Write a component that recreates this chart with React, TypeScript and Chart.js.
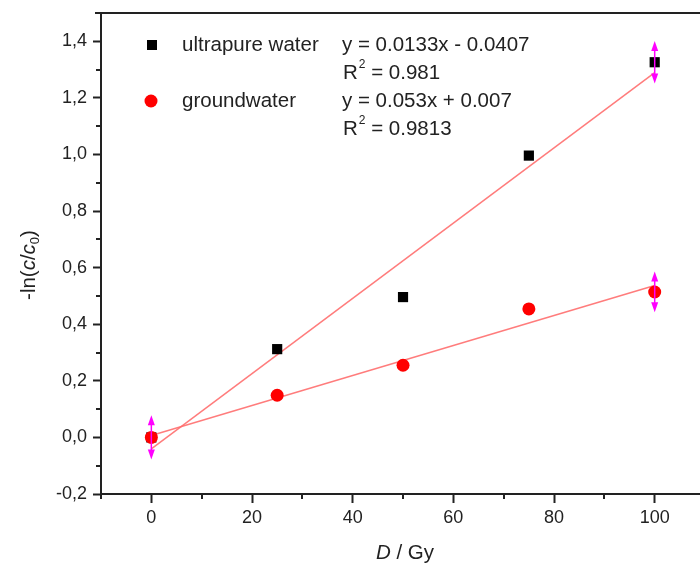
import React, { useEffect, useRef } from 'react';
import { Chart, registerables } from 'chart.js';

Chart.register(...registerables);

// ---- data ----
const doses = [0, 25, 50, 75, 100];
const ultrapure = [0, 0.312, 0.496, 0.996, 1.326];
const groundwater = [0, 0.149, 0.255, 0.454, 0.514];

const fitX = [0, 100];
const fitUltrapure = [-0.0407, 1.2893];
const fitGroundwater = [0.007, 0.537];

// magenta double arrows (centre value and half length)
const arrowX = [0, 100, 100];
const arrowY = [0, 1.326, 0.514];
const arrowHalf = [0.078, 0.075, 0.072];

const xTickValues = [0, 20, 40, 60, 80, 100];
const xTickLabels = ['0', '20', '40', '60', '80', '100'];
const xMinorTicks = [-10, 10, 30, 50, 70, 90];
const yTickValues = [-0.2, 0, 0.2, 0.4, 0.6, 0.8, 1.0, 1.2, 1.4];
const yTickLabels = ['-0,2', '0,0', '0,2', '0,4', '0,6', '0,8', '1,0', '1,2', '1,4'];
const yMinorTicks = [-0.1, 0.1, 0.3, 0.5, 0.7, 0.9, 1.1, 1.3];

const legendNames = ['ultrapure water', 'groundwater'];
const legendEquations = ['y = 0.0133x - 0.0407', 'y = 0.053x + 0.007'];
const legendR2 = ['0.981', '0.9813'];

const FONT = '"Liberation Sans", Arial, sans-serif';
const TEXT = '#222222';
const MAGENTA = '#ff00ff';
const FIT = 'rgba(255,110,110,0.9)';

const overlay = {
  id: 'overlay',
  afterDatasetsDraw(chart: any) {
    const { ctx, scales } = chart;
    const x = scales.x;
    const y = scales.y;
    ctx.save();
    ctx.strokeStyle = MAGENTA;
    ctx.fillStyle = MAGENTA;
    ctx.lineWidth = 1.5;
    arrowX.forEach((xv, i) => {
      const px = x.getPixelForValue(xv);
      const top = y.getPixelForValue(arrowY[i] + arrowHalf[i]);
      const bot = y.getPixelForValue(arrowY[i] - arrowHalf[i]);
      ctx.beginPath();
      ctx.moveTo(px, top + 6);
      ctx.lineTo(px, bot - 6);
      ctx.stroke();
      ctx.beginPath();
      ctx.moveTo(px, top);
      ctx.lineTo(px - 3.5, top + 10);
      ctx.lineTo(px + 3.5, top + 10);
      ctx.closePath();
      ctx.fill();
      ctx.beginPath();
      ctx.moveTo(px, bot);
      ctx.lineTo(px - 3.5, bot - 10);
      ctx.lineTo(px + 3.5, bot - 10);
      ctx.closePath();
      ctx.fill();
    });
    ctx.restore();
  },
  afterDraw(chart: any) {
    const { ctx, scales, chartArea } = chart;
    const x = scales.x;
    const y = scales.y;
    ctx.save();
    // top frame line
    ctx.strokeStyle = TEXT;
    ctx.lineWidth = 2;
    ctx.beginPath();
    ctx.moveTo(chartArea.left - 6, chartArea.top);
    ctx.lineTo(chart.width, chartArea.top);
    ctx.stroke();
    // minor ticks
    ctx.lineWidth = 2;
    yMinorTicks.forEach((v) => {
      const py = Math.round(y.getPixelForValue(v));
      ctx.beginPath();
      ctx.moveTo(chartArea.left, py);
      ctx.lineTo(chartArea.left - 5, py);
      ctx.stroke();
    });
    xMinorTicks.forEach((v) => {
      const px = Math.round(x.getPixelForValue(v));
      ctx.beginPath();
      ctx.moveTo(px, chartArea.bottom);
      ctx.lineTo(px, chartArea.bottom + 5);
      ctx.stroke();
    });

    // legend
    ctx.textBaseline = 'middle';
    ctx.textAlign = 'left';
    const rows = [45, 101];
    const r2rows = [73, 129];
    ctx.fillStyle = '#000000';
    ctx.fillRect(147, 40, 10, 10);
    ctx.fillStyle = '#ff0000';
    ctx.beginPath();
    ctx.arc(151, 101, 6.5, 0, Math.PI * 2);
    ctx.fill();
    ctx.fillStyle = TEXT;
    const big = `20.5px ${FONT}`;
    const small = `12px ${FONT}`;
    legendNames.forEach((name, i) => {
      ctx.font = big;
      ctx.fillText(name, 182, rows[i]);
      ctx.fillText(legendEquations[i], 342, rows[i]);
      const yy = r2rows[i];
      ctx.fillText('R', 343, yy);
      const wR = ctx.measureText('R').width;
      ctx.font = small;
      ctx.fillText('2', 343 + wR + 1, yy - 8);
      const w2 = ctx.measureText('2').width;
      ctx.font = big;
      ctx.fillText(' = ' + legendR2[i], 343 + wR + w2 + 1, yy);
    });

    // x title: "D / Gy"
    const parts: [string, boolean][] = [['D', true], [' / Gy', false]];
    const fontOf = (it: boolean) => `${it ? 'italic ' : ''}20.5px ${FONT}`;
    let total = 0;
    parts.forEach(([t, it]) => {
      ctx.font = fontOf(it);
      total += ctx.measureText(t).width;
    });
    let cx = 405 - total / 2;
    parts.forEach(([t, it]) => {
      ctx.font = fontOf(it);
      ctx.fillText(t, cx, 553);
      cx += ctx.measureText(t).width;
    });

    // y title: -ln(c/c0)
    ctx.save();
    ctx.translate(29, 265);
    ctx.rotate(-Math.PI / 2);
    const yParts: [string, string, number][] = [
      ['-ln(', fontOf(false), 0],
      ['c', fontOf(true), 0],
      ['/', fontOf(false), 0],
      ['c', fontOf(true), 0],
      ['0', `13px ${FONT}`, 6],
      [')', fontOf(false), 0],
    ];
    let tw = 0;
    yParts.forEach(([t, f]) => {
      ctx.font = f;
      tw += ctx.measureText(t).width;
    });
    let sx = -tw / 2;
    yParts.forEach(([t, f, dy]) => {
      ctx.font = f;
      ctx.fillText(t, sx, dy);
      sx += ctx.measureText(t).width;
    });
    ctx.restore();
    ctx.restore();
  },
};

export default function App() {
  const ref = useRef<HTMLCanvasElement | null>(null);
  useEffect(() => {
    if (!ref.current) return;
    const pts = (xs: number[], ys: number[]) => xs.map((v, i) => ({ x: v, y: ys[i] }));
    const chart = new Chart(ref.current, {
      type: 'scatter',
      data: {
        datasets: [
          {
            label: legendNames[1],
            data: pts(doses, groundwater),
            pointStyle: 'circle',
            pointRadius: 6.5,
            pointBackgroundColor: '#ff0000',
            pointBorderColor: '#ff0000',
            pointBorderWidth: 0,
            showLine: false,
          },
          {
            label: legendNames[0],
            data: pts(doses, ultrapure),
            pointStyle: 'rect',
            pointRadius: 7.2,
            pointBackgroundColor: '#000000',
            pointBorderColor: '#000000',
            pointBorderWidth: 0,
            showLine: false,
          },
          {
            label: 'fit ultrapure',
            data: pts(fitX, fitUltrapure),
            showLine: true,
            pointRadius: 0,
            borderColor: FIT,
            borderWidth: 1.5,
          },
          {
            label: 'fit groundwater',
            data: pts(fitX, fitGroundwater),
            showLine: true,
            pointRadius: 0,
            borderColor: FIT,
            borderWidth: 1.5,
          },
        ],
      },
      options: {
        animation: false,
        responsive: false,
        maintainAspectRatio: false,
        layout: { autoPadding: false, padding: { left: 0, top: 13, right: 0, bottom: 0 } },
        plugins: { legend: { display: false }, tooltip: { enabled: false } },
        scales: {
          x: {
            type: 'linear',
            min: -10,
            max: 109,
            afterFit: (s: any) => {
              s.height = 75;
              s.paddingLeft = 0;
              s.paddingRight = 0;
            },
            afterBuildTicks: (s: any) => {
              s.ticks = xTickValues.map((v) => ({ value: v }));
            },
            ticks: {
              callback: (v: any) => {
                const i = xTickValues.indexOf(Number(v));
                return i >= 0 ? xTickLabels[i] : '';
              },
              color: TEXT,
              font: { family: FONT, size: 18 },
              padding: 4,
              maxRotation: 0,
              autoSkip: false,
            },
            grid: {
              drawOnChartArea: false,
              tickLength: 9,
              tickWidth: 2,
              tickColor: TEXT,
            },
            border: { display: true, color: TEXT, width: 2 },
          },
          y: {
            type: 'linear',
            min: -0.2,
            max: 1.5,
            afterFit: (s: any) => {
              s.width = 101;
              s.paddingTop = 0;
              s.paddingBottom = 0;
            },
            afterBuildTicks: (s: any) => {
              s.ticks = yTickValues.map((v) => ({ value: v }));
            },
            ticks: {
              callback: (v: any) => {
                const i = yTickValues.findIndex((t) => Math.abs(t - Number(v)) < 1e-6);
                return i >= 0 ? yTickLabels[i] : '';
              },
              color: TEXT,
              font: { family: FONT, size: 18 },
              padding: 6,
              autoSkip: false,
            },
            grid: {
              drawOnChartArea: false,
              tickLength: 8,
              tickWidth: 2,
              tickColor: TEXT,
            },
            border: { display: true, color: TEXT, width: 2 },
          },
        },
      },
      plugins: [overlay],
    });
    return () => chart.destroy();
  }, []);
  return (
    <div style={{ position: 'absolute', left: 0, top: 0, width: 700, height: 569, background: '#fff' }}>
      <canvas ref={ref} width={700} height={569} style={{ width: 700, height: 569, display: 'block' }} />
    </div>
  );
}
